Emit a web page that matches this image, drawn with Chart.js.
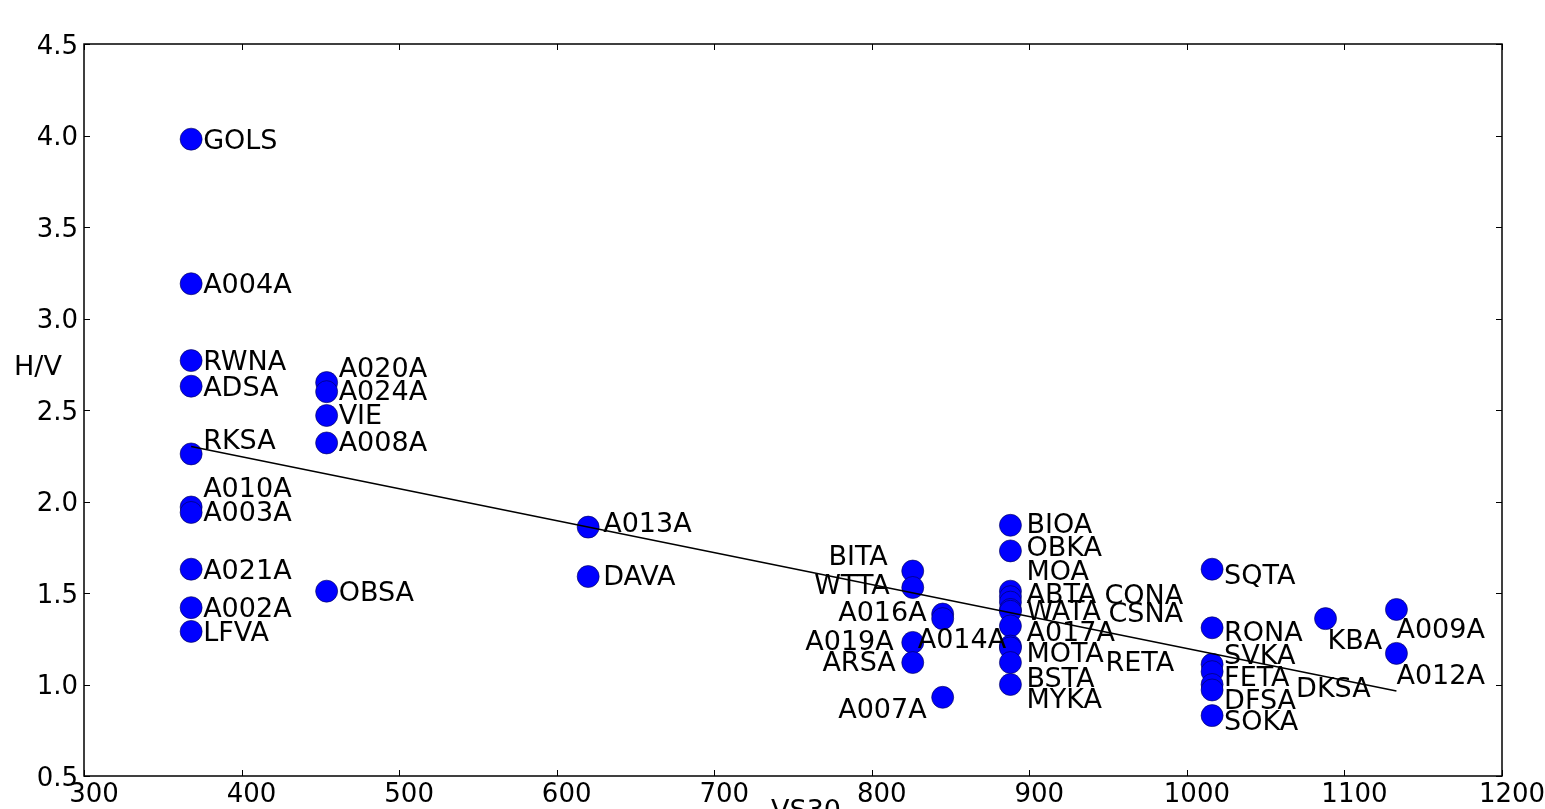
<!DOCTYPE html>
<html><head><meta charset="utf-8">
<script src="https://cdn.jsdelivr.net/npm/chart.js@4.4.1/dist/chart.umd.min.js"></script>
<style>html,body{margin:0;padding:0;background:#fff;}#wrap{width:1545px;height:809px;position:relative;overflow:hidden;}</style>
</head><body><div id="wrap"><canvas id="c" width="1545" height="809"></canvas></div>
<script>
// ---- data ----
const stations = ['GOLS','A004A','RWNA','ADSA','RKSA','A010A','A003A','A021A','A002A','LFVA',
  'A020A','A024A','VIE','A008A','OBSA','A013A','DAVA',
  'BITA','WTTA','A019A','ARSA','A016A','A014A','A007A',
  'BIOA','OBKA','MOA','ABTA','CONA','WATA','CSNA','A017A','MOTA','RETA','BSTA','MYKA',
  'SQTA','RONA','SVKA','FETA','DFSA','DKSA','SOKA','KBA','A009A','A012A'];
const vs30 = [368,368,368,368,368,368,368,368,368,368,
  454,454,454,454,454,620,620,
  826,826,826,826,845,845,845,
  888,888,888,888,888,888,888,888,888,888,888,888,
  1016,1016,1016,1016,1016,1016,1016,1088,1133,1133];
const hv = [3.98,3.19,2.77,2.63,2.26,1.97,1.94,1.63,1.42,1.29,
  2.65,2.60,2.47,2.32,1.51,1.86,1.59,
  1.62,1.53,1.23,1.12,1.385,1.36,0.93,
  1.87,1.73,1.51,1.48,1.45,1.41,1.40,1.32,1.21,1.20,1.12,1.00,
  1.63,1.31,1.11,1.07,1.00,0.97,0.83,1.36,1.41,1.17];
const trendVs30 = [368, 1133];
const trendHV = [2.30, 0.965];
const xMin = 300, xMax = 1200, xStep = 100;
const yMin = 0.5, yMax = 4.5, yStep = 0.5;
const xTitle = 'VS30';
const yTitle = 'H/V';

// ---- label placement (pixel offsets from the point: dx, dy, align) ----
const labelPlace = {
  RKSA:[12,-13,'left'], A010A:[12,-19,'left'], A003A:[12,0,'left'],
  A020A:[12,-14,'left'], A024A:[12,0,'left'], VIE:[12,0,'left'], A008A:[12,0,'left'], OBSA:[12,1,'left'],
  A013A:[15,-4,'left'], DAVA:[15,0,'left'],
  BITA:[-25,-15,'right'], WTTA:[-23,-2,'right'], A016A:[-16,-2,'right'], A019A:[-19,-1,'right'],
  ARSA:[-17,0,'right'], A007A:[-16,12,'right'], A014A:[-25,21,'left'],
  BIOA:[16,-1,'left'], OBKA:[16,-3,'left'], MOA:[16,-20,'left'], ABTA:[16,-2,'left'],
  CONA:[94,-7,'left'], WATA:[16,2,'left'], CSNA:[98,2,'left'], A017A:[16,7,'left'],
  MOTA:[16,7,'left'], RETA:[95,15,'left'], BSTA:[16,16,'left'], MYKA:[16,15,'left'],
  SQTA:[12,6,'left'], RONA:[12,5,'left'], SVKA:[12,-9,'left'], FETA:[12,6,'left'],
  DFSA:[12,16,'left'], DKSA:[84,-2,'left'], SOKA:[12,6,'left'],
  KBA:[2,22,'left'], A009A:[0,20,'left'], A012A:[0,22,'left']
};

const FONT = 'DejaVu Sans';
const pts = vs30.map((v,i)=>({x:v, y:hv[i]}));
const trend = trendVs30.map((v,i)=>({x:v, y:trendHV[i]}));

const decor = {
  id:'decor',
  afterDatasetsDraw(chart){
    const ctx = chart.ctx, a = chart.chartArea;
    const xs = chart.scales.x, ys = chart.scales.y;
    ctx.save();
    // point labels
    const meta = chart.getDatasetMeta(1);
    ctx.fillStyle = '#000';
    ctx.font = '27px "' + FONT + '"';
    ctx.textBaseline = 'middle';
    meta.data.forEach((el,i)=>{
      const p = labelPlace[stations[i]] || [12,1,'left'];
      ctx.textAlign = p[2];
      ctx.fillText(stations[i], el.x + p[0], el.y + p[1] + 1.5);
    });
    // frame
    ctx.strokeStyle = '#000';
    ctx.lineWidth = 1.5;
    ctx.strokeRect(a.left, a.top, a.right - a.left, a.bottom - a.top);
    // inward ticks on all sides
    ctx.lineWidth = 1;
    const tl = 6;
    xs.ticks.forEach(t=>{
      const px = Math.round(xs.getPixelForValue(t.value)) + 0.5;
      ctx.beginPath();
      ctx.moveTo(px, a.bottom); ctx.lineTo(px, a.bottom - tl);
      ctx.moveTo(px, a.top); ctx.lineTo(px, a.top + tl);
      ctx.stroke();
    });
    ys.ticks.forEach(t=>{
      const py = Math.round(ys.getPixelForValue(t.value)) + 0.5;
      ctx.beginPath();
      ctx.moveTo(a.left, py); ctx.lineTo(a.left + tl, py);
      ctx.moveTo(a.right, py); ctx.lineTo(a.right - tl, py);
      ctx.stroke();
    });
    // axis titles
    ctx.font = '27px "' + FONT + '"';
    ctx.textAlign = 'left';
    ctx.textBaseline = 'middle';
    ctx.fillText(yTitle, 14, 368);
    ctx.textAlign = 'center';
    ctx.textBaseline = 'alphabetic';
    ctx.fillText(xTitle, 806, 819);
    ctx.restore();
  }
};

new Chart(document.getElementById('c'), {
  type:'scatter',
  data:{ datasets:[
    { data: trend, showLine:true, borderColor:'#000', borderWidth:1.5, pointRadius:0, fill:false, order:0 },
    { data: pts, pointRadius:11, pointBackgroundColor:'#0000ff', pointBorderColor:'#00004d', pointBorderWidth:0.6, showLine:false, order:1 }
  ]},
  options:{
    responsive:false, animation:false, devicePixelRatio:1,
    layout:{ padding:{ top:44, right:43, left:0, bottom:0 } },
    plugins:{ legend:{display:false}, tooltip:{enabled:false} },
    scales:{
      x:{ type:'linear', min:xMin, max:xMax,
        ticks:{ stepSize:xStep, color:'#000', font:{family:FONT, size:26}, padding:4, labelOffset:10, maxRotation:0, autoSkip:false,
          callback:v=>String(Math.round(v)) },
        grid:{ display:false, drawTicks:false }, border:{ display:false },
        afterFit(s){ s.height = 33; } },
      y:{ type:'linear', min:yMin, max:yMax,
        ticks:{ stepSize:yStep, color:'#000', font:{family:FONT, size:26}, padding:6, labelOffset:3, autoSkip:false,
          callback:v=>Number(v).toFixed(1) },
        grid:{ display:false, drawTicks:false }, border:{ display:false },
        afterFit(s){ s.width = 84; } }
    }
  },
  plugins:[decor]
});
</script></body></html>
